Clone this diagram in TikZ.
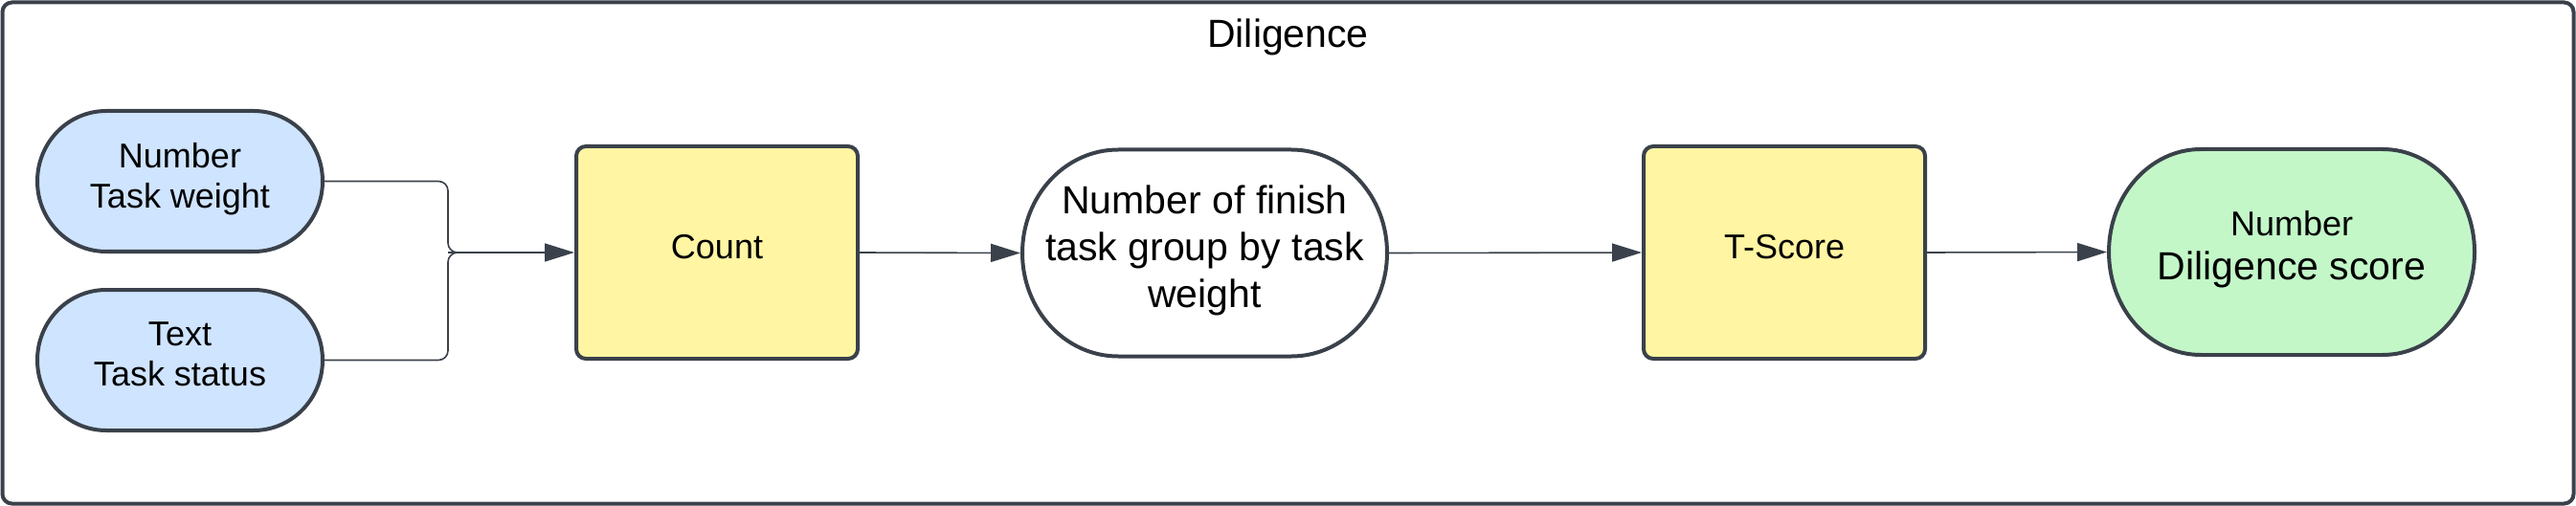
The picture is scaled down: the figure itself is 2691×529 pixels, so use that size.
\documentclass[tikz,border=0pt]{standalone}
\usepackage{fontspec}
\setmainfont{Liberation Sans}
\usetikzlibrary{arrows.meta,backgrounds,calc}
\definecolor{strokec}{HTML}{3A414A}
\definecolor{bluec}{HTML}{CFE4FF}
\definecolor{yellowc}{HTML}{FFF5A3}
\definecolor{greenc}{HTML}{C3F7C8}
\newcommand{\mystrut}{\rule[-0.35em]{0pt}{1.05em}}
\newcommand{\termshape}[4]{%
  \path[draw=strokec,line width=2pt,fill=#4]
    ([xshift=#2]#1.north west) -- ([xshift=-#2]#1.north east)
    arc[start angle=90,end angle=-90,x radius=#2,y radius=#3]
    -- ([xshift=#2]#1.south west)
    arc[start angle=270,end angle=90,x radius=#2,y radius=#3] -- cycle;}
\begin{document}
\begin{tikzpicture}[x=0.5pt,y=-0.5pt,
  termnode/.style={inner sep=0pt, outer sep=0pt, align=center, text=black},
  boxnode/.style={draw=strokec, line width=2pt, rounded corners=5pt, fill=yellowc,
    minimum width=147pt, minimum height=111pt, inner sep=0pt, text=black,
    font=\fontsize{18}{21.6}\selectfont},
  conn/.style={draw=strokec, line width=0.8pt, -{Triangle[length=15.5pt,width=9.5pt]}},
  joinline/.style={draw=strokec, line width=0.8pt, rounded corners=5pt}]
\useasboundingbox (0,0) rectangle (2691,529);
% frame
\draw[draw=strokec, line width=2pt, rounded corners=5pt] (2.5,2.5) rectangle (2688.5,526.5);
\node[font=\fontsize{20.5}{24}\selectfont, anchor=base, text=black] (title) at (1345.5,50) {Diligence};
% nodes
\node[termnode, minimum width=149pt, minimum height=73.5pt, font=\fontsize{18}{21.15}\selectfont]
  (w) at (188,189.5) {\mystrut Number\\\mystrut Task weight};
\node[termnode, minimum width=149pt, minimum height=73.5pt, font=\fontsize{18}{21.15}\selectfont]
  (s) at (188,376.5) {\mystrut Text\\\mystrut Task status};
\node[boxnode] (count) at (749,264) {\mystrut Count};
\node[termnode, minimum width=190.5pt, minimum height=108pt, font=\fontsize{20.5}{24.45}\selectfont]
  (fin) at (1258.5,264.5) {\mystrut Number of finish\\\mystrut task group by task\\\mystrut weight};
\node[boxnode] (tscore) at (1864,264) {\mystrut T-Score};
\node[termnode, minimum width=191pt, minimum height=107.5pt, font=\fontsize{20.5}{23.35}\selectfont]
  (dil) at (2394,263.5) {{\fontsize{18}{23.35}\selectfont\mystrut Number}\\\mystrut Diligence score};
\begin{scope}[on background layer]
  \termshape{w}{36pt}{36.75pt}{bluec}
  \termshape{s}{36pt}{36.75pt}{bluec}
  \termshape{fin}{50pt}{54pt}{white}
  \termshape{dil}{48pt}{53.75pt}{greenc}
\end{scope}
% connectors
\coordinate (j) at (468,264);
\draw[joinline] (w.east) -| (j) -- ([xshift=-8pt]count.west);
\draw[joinline] (s.east) -| (j) -- ([xshift=-8pt]count.west);
\draw[conn] (j) -- (count.west);
\draw[conn, shorten >=1pt] (count.east) -- (fin.west);
\draw[conn] (fin.east) -- (tscore.west);
\draw[conn, shorten >=1pt] (tscore.east) -- (dil.west);
\end{tikzpicture}
\end{document}
